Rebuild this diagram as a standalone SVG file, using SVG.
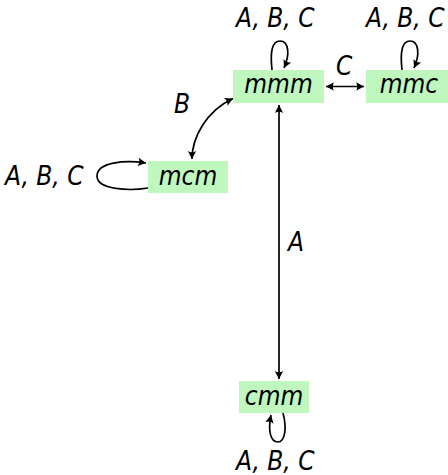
<svg xmlns="http://www.w3.org/2000/svg" width="448" height="475" viewBox="0 0 448 475">
  <defs>
    <marker id="arr" viewBox="-9 -5 11 10" markerWidth="11" markerHeight="10" refX="0" refY="0" orient="auto-start-reverse" markerUnits="userSpaceOnUse">
      <path d="M0,0 L-8,-4.2 Q-5.5,0 -8,4.2 Z" fill="#000"/>
    </marker>
    <style>
      .node rect { fill: #bff7bf; stroke: none; }
      .node text { font-family: "DejaVu Sans", sans-serif; font-style: oblique; font-size: 26px; text-anchor: middle; fill: #000; }
      .lbl { font-family: "DejaVu Sans", sans-serif; font-style: oblique; font-size: 26px; fill: #000; }
      .edge { fill: none; stroke: #000; stroke-width: 1.7; }
    </style>
  </defs>

  <!-- transitions -->
  <g id="connectors">
    <path class="edge" d="M279,105 L279,379" marker-start="url(#arr)" marker-end="url(#arr)"/>
    <path class="edge" d="M326,86.5 L364,86.5" marker-start="url(#arr)" marker-end="url(#arr)"/>
    <path class="edge" d="M192,159 C192,138 206,111 233,98.5" marker-start="url(#arr)" marker-end="url(#arr)"/>
    <!-- self loops -->
    <path class="edge" d="M272,70 C270,52 272,41 280,41 C289,41 290,55 284,68" marker-end="url(#arr)"/>
    <path class="edge" d="M402,70 C400,52 402,41 410,41 C419,41 420,55 414,68" marker-end="url(#arr)"/>
    <path class="edge" d="M148,188 C130,191 97,190 97,176 C97,162 125,160 146,163" marker-end="url(#arr)"/>
    <path class="edge" d="M283,413 C287,428 285,442 278,442 C270,442 268,430 271,415" marker-end="url(#arr)"/>
  </g>

  <!-- states; glyphs are narrowed to 90% width -->
  <g id="mmm" class="node">
    <rect x="233" y="70" width="91" height="33"/>
    <text transform="translate(278.5,93) scale(0.9,1)">mmm</text>
  </g>
  <g id="mmc" class="node">
    <rect x="366" y="70" width="86" height="33"/>
    <text transform="translate(409,93) scale(0.9,1)">mmc</text>
  </g>
  <g id="mcm" class="node">
    <rect x="148" y="161" width="80" height="32"/>
    <text transform="translate(188,185) scale(0.9,1)">mcm</text>
  </g>
  <g id="cmm" class="node">
    <rect x="239" y="381" width="70" height="32"/>
    <text transform="translate(274,405) scale(0.9,1)">cmm</text>
  </g>

  <!-- transition labels -->
  <text class="lbl" transform="translate(236,27) scale(0.9,1)">A, B, C</text>
  <text class="lbl" transform="translate(366,27) scale(0.9,1)">A, B, C</text>
  <text class="lbl" transform="translate(5,185) scale(0.9,1)">A, B, C</text>
  <text class="lbl" transform="translate(236,470) scale(0.9,1)">A, B, C</text>
  <text class="lbl" transform="translate(336,75) scale(0.9,1)">C</text>
  <text class="lbl" transform="translate(174,113) scale(0.9,1)">B</text>
  <text class="lbl" transform="translate(288,251) scale(0.9,1)">A</text>
</svg>
